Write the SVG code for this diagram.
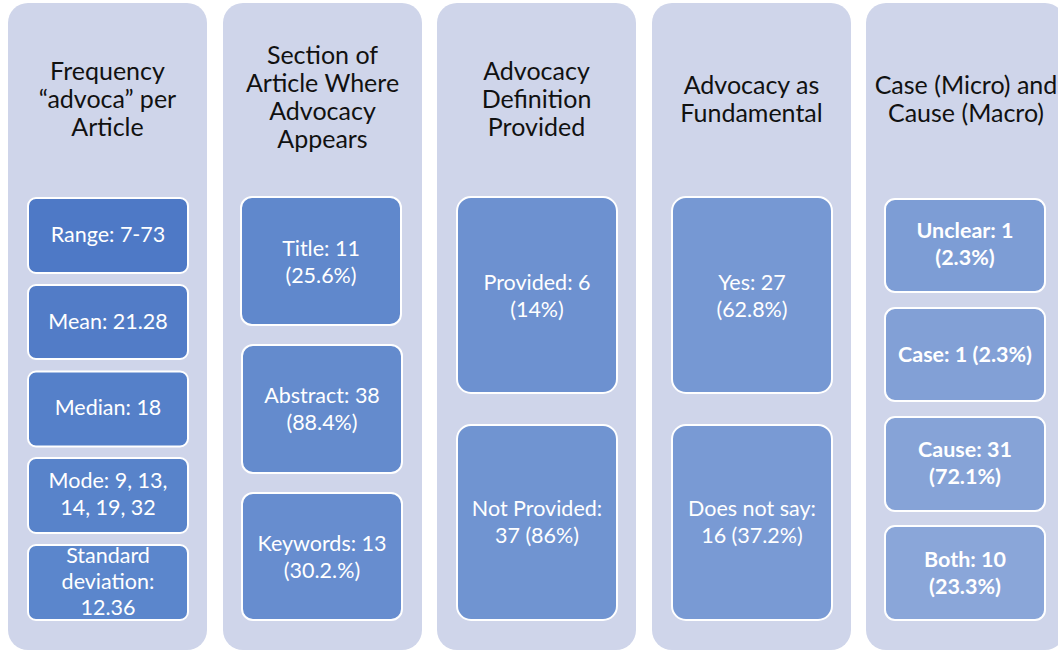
<svg xmlns="http://www.w3.org/2000/svg" width="1058" height="652" viewBox="0 0 1058 652">
  <style>
    .col { fill: #cfd5ea; }
    .box { stroke: #ffffff; stroke-width: 2; }
    .head { font-family: Lato, "Liberation Sans", sans-serif; font-size: 25px; fill: #111111; text-anchor: middle; }
    .lbl { font-family: Lato, "Liberation Sans", sans-serif; font-size: 21.5px; fill: #ffffff; text-anchor: middle; }
    .bold { font-weight: bold; }
  </style>
  <rect width="1058" height="652" fill="#ffffff"/>

  <!-- Column 1: frequency statistics -->
  <g id="col-frequency">
    <rect class="col" x="8" y="3" width="199" height="647" rx="20"/>
    <text class="head" x="107.5" y="80">Frequency</text>
    <text class="head" x="107.5" y="108">“advoca” per</text>
    <text class="head" x="107.5" y="136">Article</text>
  </g>
  <g id="node-range">
    <rect class="box" x="28" y="198" width="160" height="75" rx="8" fill="#4e79c6"/>
    <text class="lbl" x="108" y="242">Range: 7-73</text>
  </g>
  <g id="node-mean">
    <rect class="box" x="28" y="285" width="160" height="74" rx="8" fill="#527cc7"/>
    <text class="lbl" x="108" y="329">Mean: 21.28</text>
  </g>
  <g id="node-median">
    <rect class="box" x="28" y="371.5" width="160" height="75" rx="8" fill="#5580c9"/>
    <text class="lbl" x="108" y="415">Median: 18</text>
  </g>
  <g id="node-mode">
    <rect class="box" x="28" y="458" width="160" height="75" rx="8" fill="#5883ca"/>
    <text class="lbl" x="108" y="488">Mode: 9, 13,</text>
    <text class="lbl" x="108" y="515">14, 19, 32</text>
  </g>
  <g id="node-stddev">
    <rect class="box" x="28" y="545" width="160" height="75" rx="8" fill="#5b86cc"/>
    <text class="lbl" x="108" y="563">Standard</text>
    <text class="lbl" x="108" y="589">deviation:</text>
    <text class="lbl" x="108" y="615">12.36</text>
  </g>

  <!-- Column 2: section of article -->
  <g id="col-section">
    <rect class="col" x="223" y="3" width="199" height="647" rx="20"/>
    <text class="head" x="322.5" y="64">Section of</text>
    <text class="head" x="322.5" y="92">Article Where</text>
    <text class="head" x="322.5" y="120">Advocacy</text>
    <text class="head" x="322.5" y="148">Appears</text>
  </g>
  <g id="node-title">
    <rect class="box" x="241" y="197" width="160" height="128" rx="11" fill="#6088cc"/>
    <text class="lbl" x="321" y="256">Title: 11</text>
    <text class="lbl" x="321" y="283">(25.6%)</text>
  </g>
  <g id="node-abstract">
    <rect class="box" x="242" y="345" width="160" height="128" rx="11" fill="#648bcd"/>
    <text class="lbl" x="322" y="403">Abstract: 38</text>
    <text class="lbl" x="322" y="430">(88.4%)</text>
  </g>
  <g id="node-keywords">
    <rect class="box" x="242" y="493" width="160" height="127" rx="11" fill="#678dcf"/>
    <text class="lbl" x="322" y="551">Keywords: 13</text>
    <text class="lbl" x="322" y="578">(30.2.%)</text>
  </g>

  <!-- Column 3: definition provided -->
  <g id="col-definition">
    <rect class="col" x="437" y="3" width="199" height="647" rx="20"/>
    <text class="head" x="536.5" y="80">Advocacy</text>
    <text class="head" x="536.5" y="108">Definition</text>
    <text class="head" x="536.5" y="136">Provided</text>
  </g>
  <g id="node-provided">
    <rect class="box" x="457" y="197" width="160" height="196" rx="14" fill="#6d91d0"/>
    <text class="lbl" x="537" y="290">Provided: 6</text>
    <text class="lbl" x="537" y="317">(14%)</text>
  </g>
  <g id="node-not-provided">
    <rect class="box" x="457" y="425" width="160" height="195" rx="14" fill="#7094d1"/>
    <text class="lbl" x="537" y="516">Not Provided:</text>
    <text class="lbl" x="537" y="543">37 (86%)</text>
  </g>

  <!-- Column 4: advocacy as fundamental -->
  <g id="col-fundamental">
    <rect class="col" x="652" y="3" width="199" height="647" rx="20"/>
    <text class="head" x="751.5" y="94">Advocacy as</text>
    <text class="head" x="751.5" y="122">Fundamental</text>
  </g>
  <g id="node-yes">
    <rect class="box" x="672" y="197" width="160" height="196" rx="14" fill="#7698d3"/>
    <text class="lbl" x="752" y="290">Yes: 27</text>
    <text class="lbl" x="752" y="317">(62.8%)</text>
  </g>
  <g id="node-does-not-say">
    <rect class="box" x="672" y="425" width="160" height="195" rx="14" fill="#799ad4"/>
    <text class="lbl" x="752" y="516">Does not say:</text>
    <text class="lbl" x="752" y="543">16 (37.2%)</text>
  </g>

  <!-- Column 5: case vs cause -->
  <g id="col-case-cause">
    <rect class="col" x="866" y="3" width="199" height="647" rx="20"/>
    <text class="head" x="966" y="94">Case (Micro) and</text>
    <text class="head" x="966" y="122">Cause (Macro)</text>
  </g>
  <g id="node-unclear">
    <rect class="box" x="885" y="199" width="160" height="93" rx="10" fill="#7d9dd5"/>
    <text class="lbl bold" x="965" y="238">Unclear: 1</text>
    <text class="lbl bold" x="965" y="265">(2.3%)</text>
  </g>
  <g id="node-case">
    <rect class="box" x="885" y="308" width="160" height="93" rx="10" fill="#82a0d6"/>
    <text class="lbl bold" x="965" y="362">Case: 1 (2.3%)</text>
  </g>
  <g id="node-cause">
    <rect class="box" x="885" y="417" width="160" height="94" rx="10" fill="#86a3d7"/>
    <text class="lbl bold" x="965" y="457">Cause: 31</text>
    <text class="lbl bold" x="965" y="484">(72.1%)</text>
  </g>
  <g id="node-both">
    <rect class="box" x="885" y="526" width="160" height="94" rx="10" fill="#8aa6d9"/>
    <text class="lbl bold" x="965" y="567">Both: 10</text>
    <text class="lbl bold" x="965" y="594">(23.3%)</text>
  </g>

  <!-- no connectors in this layout -->
  <g id="connectors"/>
</svg>
